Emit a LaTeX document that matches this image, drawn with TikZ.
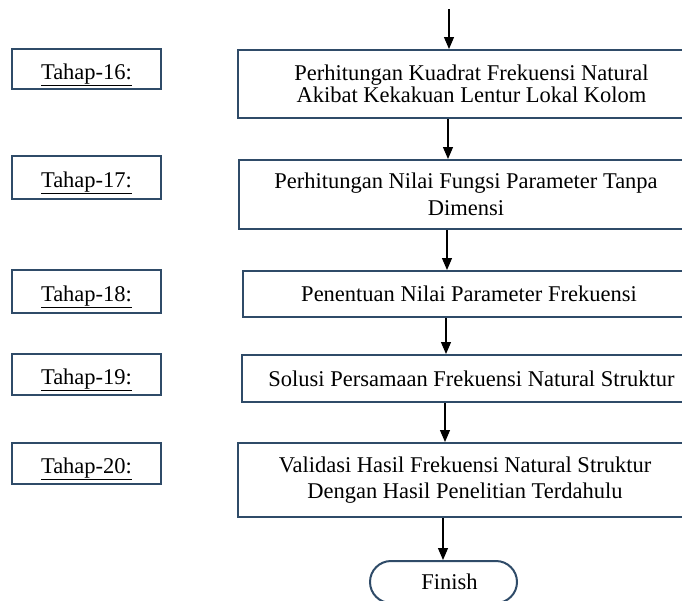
\documentclass[tikz,border=0pt]{standalone}
\usepackage{fontspec}
\setmainfont{Liberation Serif}
\usetikzlibrary{arrows.meta}
\definecolor{bordercol}{HTML}{2F4B68}
\tikzset{
  mainbox/.style={draw=bordercol, line width=2pt, align=center, inner sep=0pt,
    font=\fontsize{22.5}{26.5}\selectfont},
  tahapbox/.style={draw=bordercol, line width=2pt, inner sep=0pt,
    text height=22pt, text depth=2pt,
    minimum width=149pt, font=\fontsize{22.5}{26.5}\selectfont},
  endbox/.style={draw=bordercol, line width=2pt, rounded corners=21pt, inner sep=0pt,
    minimum width=147pt, minimum height=42pt, font=\fontsize{22.5}{26.5}\selectfont},
  arr/.style={draw=black, line width=1.2pt, -{Triangle[length=12pt,width=10pt]}}
}
\begin{document}
\begin{tikzpicture}[x=1pt,y=-1pt]
\path[use as bounding box, fill=white] (0,0) rectangle (682,600);
\clip (0,0) rectangle (682,600);

% main boxes
\node[mainbox, minimum width=467pt, minimum height=68pt, font=\fontsize{22.5}{22.5}\selectfont] (b16) at (471.5,84)
  {Perhitungan Kuadrat Frekuensi Natural\\Akibat Kekakuan Lentur Lokal Kolom};
\node[mainbox, minimum width=454pt, minimum height=69pt] (b17) at (466,194.5)
  {Perhitungan Nilai Fungsi Parameter Tanpa\\Dimensi};
\node[mainbox, minimum width=452pt, minimum height=46pt] (b18) at (469,294)
  {Penentuan Nilai Parameter Frekuensi};
\node[mainbox, minimum width=459pt, minimum height=47pt] (b19) at (471.5,378.5)
  {Solusi Persamaan Frekuensi Natural Struktur};
\node[mainbox, minimum width=454pt, minimum height=74pt] (b20) at (465,480)
  {Validasi Hasil Frekuensi Natural Struktur\\Dengan Hasil Penelitian Terdahulu};
\node[endbox] (fin) at (443.5,582) {\hspace*{12pt}Finish};

% stage labels
\node[tahapbox, minimum height=40pt] (t16) at (86.5,69) {\underline{Tahap-16:}};
\node[tahapbox, minimum height=43pt] (t17) at (86.5,177.5) {\underline{Tahap-17:}};
\node[tahapbox, minimum height=43pt] (t18) at (86.5,291.5) {\underline{Tahap-18:}};
\node[tahapbox, minimum height=41pt] (t19) at (86.5,374.5) {\underline{Tahap-19:}};
\node[tahapbox, minimum height=41pt] (t20) at (86.5,463.5) {\underline{Tahap-20:}};

% connector columns
\coordinate (top) at (449,9);
\coordinate (x1) at (448,0);
\coordinate (x2) at (447,0);
\coordinate (x3) at (446,0);
\coordinate (x4) at (445,0);
\coordinate (x5) at (443,0);

\draw[arr] (top) -- (top |- b16.north);
\draw[arr] (b16.south -| x1) -- (b17.north -| x1);
\draw[arr] (b17.south -| x2) -- (b18.north -| x2);
\draw[arr] (b18.south -| x3) -- (b19.north -| x3);
\draw[arr] (b19.south -| x4) -- (b20.north -| x4);
\draw[arr] (b20.south -| x5) -- (fin.north -| x5);
\end{tikzpicture}
\end{document}
